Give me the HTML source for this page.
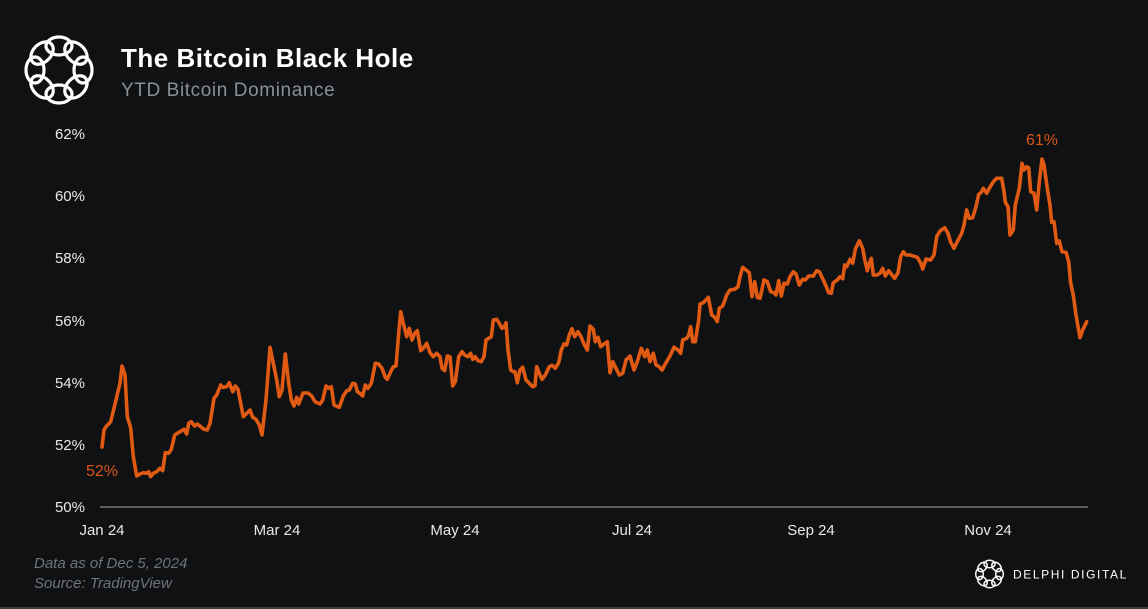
<!DOCTYPE html>
<html><head><meta charset="utf-8"><style>
html,body{margin:0;padding:0;background:#0f1113;}
body{width:1148px;height:609px;overflow:hidden;position:relative;font-family:"Liberation Sans",sans-serif;}
svg{position:absolute;left:0;top:0;}
</style></head><body>
<svg width="1148" height="609" viewBox="0 0 1148 609" xmlns="http://www.w3.org/2000/svg">
<rect x="0" y="0" width="1148" height="609" fill="#0f1113"/>
<rect x="0" y="607" width="1148" height="2" fill="#3c3e42"/>
<!-- main logo -->
<g fill="none" stroke="#ffffff" stroke-width="3.2" transform="translate(59,70)">
<ellipse cx="0" cy="-24" rx="13" ry="9" transform="rotate(0)"/>
<ellipse cx="0" cy="-24" rx="13" ry="9" transform="rotate(45)"/>
<ellipse cx="0" cy="-24" rx="13" ry="9" transform="rotate(90)"/>
<ellipse cx="0" cy="-24" rx="13" ry="9" transform="rotate(135)"/>
<ellipse cx="0" cy="-24" rx="13" ry="9" transform="rotate(180)"/>
<ellipse cx="0" cy="-24" rx="13" ry="9" transform="rotate(225)"/>
<ellipse cx="0" cy="-24" rx="13" ry="9" transform="rotate(270)"/>
<ellipse cx="0" cy="-24" rx="13" ry="9" transform="rotate(315)"/>
</g>
<text x="121" y="67" fill="#ffffff" font-size="26" font-weight="bold" letter-spacing="0.5" font-family="Liberation Sans, sans-serif">The Bitcoin Black Hole</text>
<text x="121" y="96" fill="#8b9097" font-size="19" letter-spacing="0.6" font-family="Liberation Sans, sans-serif">YTD Bitcoin Dominance</text>
<!-- y axis labels -->
<g fill="#e8e8e8" font-size="15" text-anchor="end" font-family="Liberation Sans, sans-serif">
<text x="85" y="139">62%</text>
<text x="85" y="201">60%</text>
<text x="85" y="263">58%</text>
<text x="85" y="326">56%</text>
<text x="85" y="388">54%</text>
<text x="85" y="450">52%</text>
<text x="85" y="512">50%</text>
</g>
<line x1="100" y1="507" x2="1088" y2="507" stroke="#8a8d92" stroke-width="1.3"/>
<g fill="#e8e8e8" font-size="15" text-anchor="middle" font-family="Liberation Sans, sans-serif">
<text x="102" y="535">Jan 24</text>
<text x="277" y="535">Mar 24</text>
<text x="455" y="535">May 24</text>
<text x="632" y="535">Jul 24</text>
<text x="811" y="535">Sep 24</text>
<text x="988" y="535">Nov 24</text>
</g>
<polyline fill="none" stroke="#e05a14" stroke-width="3.6" stroke-linejoin="round" stroke-linecap="round" points="102,447 104,430 106,426.7 110.7,421.7 116,400 120,383 122,366 125,375 127.3,416.7 130.7,428 133.3,456.7 136.7,476 140,474 143.3,472.7 146.7,473.3 148.7,471.7 150.7,476.7 153.3,473.3 156.7,471.7 160,468.3 162.7,470.7 165.3,452.7 168.7,453.3 171.3,449.3 174.7,435 177.3,433.3 181.7,430.7 184,429.3 186.7,434 188.7,423.3 191.3,421.7 194.7,426 197.3,424 200.7,426.7 204,429.3 207.3,430 210,423.3 214,398.3 216.7,395 220.7,385 222.7,387.3 226.7,386.7 229.3,382.7 232.7,391.7 235.3,386 238,389.3 243.3,416.7 246.7,413.3 250,410 252.7,417.3 256,419.3 259.3,425 262,435 266,400 270,347.3 273.3,363.3 276.7,380 279.3,396.7 282,390 285.3,354 288.7,383.3 291.3,400 294,406 296.7,397.3 298.7,404 303,393 308,393 311.7,396 315,401.7 320,404 322.7,400 326,386 328.7,388.3 331.3,386.7 334,405 339.3,407.3 343.3,396 346.7,390.7 349.3,390 352.7,383.3 355.3,384 357.3,391.7 360,393.3 362.7,396 365.3,385 368,388.3 371.3,383.3 375.3,363.3 378.7,364 382,368.3 385.3,377.3 387.3,379.3 390.7,371.7 393.3,366.7 396,366 398.7,333.3 400.7,311.7 403.3,323.3 406.7,336.7 409.3,328.3 412,340 414.7,333.3 417.3,330.7 420.7,350.7 423.3,348.3 426.7,343.3 430,352.7 433.3,356.7 436.7,353.3 440,356.7 442,368.3 444.7,370.7 447.3,356 450,356.7 452.7,386 455.3,381.7 458.7,356.7 462,351.7 464.7,355 468,356.7 470.7,353.3 472.7,359.3 475.3,356.7 478,360.7 481.3,361.7 484,356.7 486,340 488.7,338.3 491.3,336.7 493.3,320 496.7,319.3 499.3,323.3 502,328.3 504,327.3 506,322.7 508,350 510.7,370 513.3,371.7 515,371.7 517.3,382.7 520,370 522.7,367.3 526,380 529.3,383.3 532.7,386.7 535,385.7 536.7,366.7 539.3,373.3 542,379.3 545.3,375 549.3,366.7 552,365.3 555.3,368.3 558.7,362.7 561.3,350 564,344 566.7,345 569.3,335 572,328.7 574.7,336.7 578,331.7 580.7,336 584,344 587.3,350 590,326 593.3,329.3 595.3,341.7 598,337.3 600.7,346.7 604,344 607.3,341.7 610,372.7 612.7,361.7 616,368.3 619.3,375 622.7,373.3 626,360 630,356 634,370 637.3,361.7 641.3,348.3 644.7,356.7 647.3,350 650,361.7 653.3,353.3 656,365 659.3,366.7 662,370 666,362.7 670,356 674,347.3 678,350 680.7,353.3 682.7,340 686.7,338.3 688.7,335 690.7,326.7 692.7,341.7 695.3,341.7 698.7,320 700,304 703.3,302.7 708.3,297.3 711.7,315 714.7,317.3 717.3,321.7 719.3,308.3 722.7,306 726.7,295 730,290 734.7,289.3 738,286.7 740,276.7 742.7,267.3 746,270 749.3,272.7 752,296.7 754.7,281.7 757.3,297.3 760,298.3 764,280 767.3,281.7 770.7,291.7 774,292.7 776,295 778.7,280.7 781.3,296 784,283.3 787.3,284 790,276.7 793.3,271.7 796,274 799.3,285 802.7,279.3 805.3,280 808.7,276 813.3,276 816.7,270.7 819.3,271.7 823.3,280 826,286 828.7,292.7 831.3,293.3 833.3,282.7 837.3,280 840,276.7 842.7,278.7 844.7,265 846.7,266.7 850,259.3 852.7,263.3 855.3,249.3 859.3,240.7 862.7,248.3 864.7,259.3 867.3,270.7 869.3,263.3 871.3,258.3 873.3,275 876.7,275 880,273.3 882.7,268.3 885.3,276 888.7,270.7 892,275 894.7,278.3 898,272.7 900.7,256.7 903.3,251.7 906,255 910,255 917.3,257.3 920.7,263 922.7,269 926,259 930.7,260 934,255 936.7,236.7 940,231 944.7,227.7 948,233.3 950.7,242.3 954,248.3 957.3,241.7 961.7,233.3 964,225 966.7,210 969.3,218.3 972.7,217.7 976,206.7 978.7,194.3 981.3,192.3 983.3,188.3 986.7,193.3 989.3,188.3 993.3,181.7 996.7,178.3 1001.7,178.3 1004,191.7 1005.3,202.3 1008,206.7 1010,235 1013.3,230 1015.3,205 1019.3,188.3 1022,163.3 1024,170 1026.7,166.7 1028.7,167.7 1030.7,191.7 1034,193.3 1036.7,210 1039.3,181.7 1042,159 1044,165 1047.3,188.3 1050,205 1051.7,222.3 1054,221.7 1056.7,243.3 1059.3,241 1062,251.7 1066,252.3 1068.7,261.7 1070.7,283.3 1073.3,295 1076,315 1080,337.7 1082.7,330 1086.7,321.7"/>
<text x="102" y="476" fill="#d9571a" font-size="16" text-anchor="middle" font-family="Liberation Sans, sans-serif">52%</text>
<text x="1042" y="145" fill="#d9571a" font-size="16" text-anchor="middle" font-family="Liberation Sans, sans-serif">61%</text>
<!-- footer -->
<text x="34" y="568" fill="#6f737a" font-size="15" font-style="italic" font-family="Liberation Sans, sans-serif">Data as of Dec 5, 2024</text>
<text x="34" y="588" fill="#6f737a" font-size="15" font-style="italic" font-family="Liberation Sans, sans-serif">Source: TradingView</text>
<g fill="none" stroke="#ffffff" stroke-width="1.5" transform="translate(989.5,574)">
<ellipse cx="0" cy="-10" rx="5.5" ry="3.8" transform="rotate(0)"/>
<ellipse cx="0" cy="-10" rx="5.5" ry="3.8" transform="rotate(45)"/>
<ellipse cx="0" cy="-10" rx="5.5" ry="3.8" transform="rotate(90)"/>
<ellipse cx="0" cy="-10" rx="5.5" ry="3.8" transform="rotate(135)"/>
<ellipse cx="0" cy="-10" rx="5.5" ry="3.8" transform="rotate(180)"/>
<ellipse cx="0" cy="-10" rx="5.5" ry="3.8" transform="rotate(225)"/>
<ellipse cx="0" cy="-10" rx="5.5" ry="3.8" transform="rotate(270)"/>
<ellipse cx="0" cy="-10" rx="5.5" ry="3.8" transform="rotate(315)"/>
</g>
<text x="1013" y="578.5" fill="#ffffff" font-size="12" letter-spacing="1.6" font-family="Liberation Sans, sans-serif">DELPHI DIGITAL</text>
</svg>
</body></html>
